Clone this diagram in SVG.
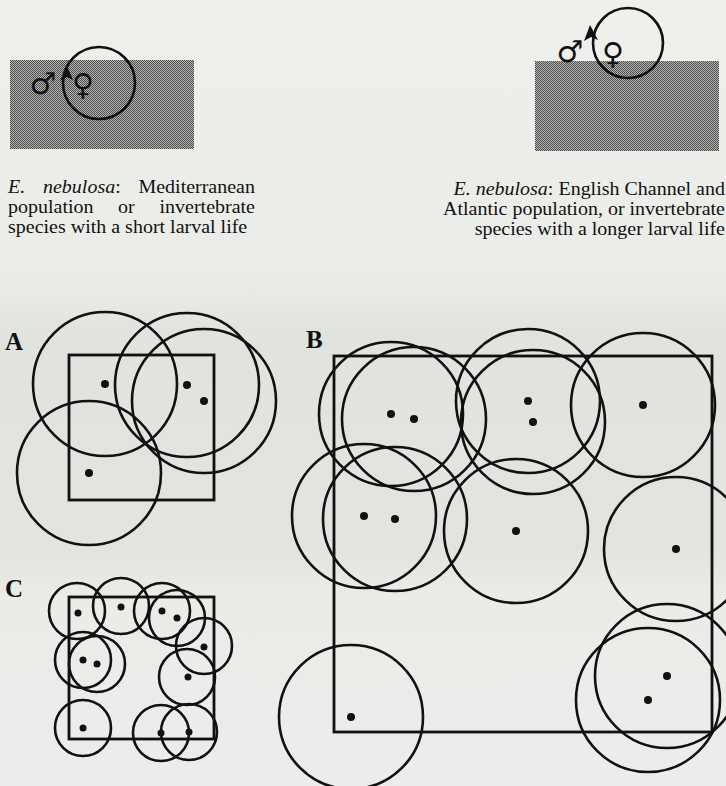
<svg xmlns="http://www.w3.org/2000/svg" width="726" height="786" viewBox="0 0 726 786">
<defs>
<linearGradient id="bg" x1="0" y1="0" x2="0" y2="1">
<stop offset="0" stop-color="#eff0ec"/>
<stop offset="0.36" stop-color="#eaece8"/>
<stop offset="0.42" stop-color="#e1e3df"/>
<stop offset="0.7" stop-color="#e2e4e0"/>
<stop offset="0.76" stop-color="#eaece8"/>
<stop offset="1" stop-color="#ecedea"/>
</linearGradient>
<pattern id="dither" width="2" height="2" patternUnits="userSpaceOnUse">
<rect width="2" height="2" fill="#b8b8b8"/>
<rect width="1" height="1" fill="#4a4a4a"/>
<rect x="1" y="1" width="1" height="1" fill="#4a4a4a"/>
</pattern>
</defs>
<style>
.c{fill:none;stroke:#111;stroke-width:2.6}
.r{fill:none;stroke:#111;stroke-width:2.8}
.d{fill:#111}
.t{font-family:"Liberation Serif","Times New Roman",serif;font-size:18px;fill:#111}
.i{font-style:italic}
.lab{font-family:"Liberation Serif","Times New Roman",serif;font-size:25px;font-weight:bold;fill:#111}
.sym{font-family:"DejaVu Sans",sans-serif;font-size:30px;fill:#111}
.arr{fill:#111}
</style>
<rect width="726" height="786" fill="url(#bg)"/>

<g id="mediterranean">
<rect x="10" y="60" width="184" height="89" fill="url(#dither)"/>
<circle class="c" cx="99" cy="83" r="36"/>
<path class="arr" d="M67,66 L73,80 L67,77 L60,81 Z"/>
<text class="sym" x="43" y="94" text-anchor="middle">♂</text>
<text class="sym" x="83" y="95" text-anchor="middle">♀</text>
<g transform="scale(1.1111,1)">
<text class="t" y="193"><tspan x="7.2" class="i">E.</tspan><tspan x="38.7" class="i">nebulosa</tspan><tspan>:</tspan></text>
<text class="t" x="229.5" y="193" text-anchor="end">Mediterranean</text>
<text class="t" y="213"><tspan x="7.2">population</tspan><tspan x="106.2">or</tspan></text>
<text class="t" x="229.5" y="213" text-anchor="end">invertebrate</text>
<text class="t" x="7.2" y="233">species with a short larval life</text>
</g>
</g>

<g id="atlantic">
<rect x="535" y="61" width="184" height="90" fill="url(#dither)"/>
<circle class="c" cx="628" cy="43" r="35"/>
<path class="arr" d="M590,25 L598,40 L591,37 L584,41 Z"/>
<text class="sym" x="570" y="62" text-anchor="middle">♂</text>
<text class="sym" x="613" y="64" text-anchor="middle">♀</text>
<g transform="scale(1.1111,1)">
<text class="t" x="652.5" y="195" text-anchor="end"><tspan class="i">E. nebulosa</tspan>: English Channel and</text>
<text class="t" x="652.5" y="215" text-anchor="end">Atlantic population, or invertebrate</text>
<text class="t" x="652.5" y="235" text-anchor="end">species with a longer larval life</text>
</g>
</g>

<g id="panelA">
<text class="lab" x="5" y="350">A</text>
<rect class="r" x="69" y="355" width="145" height="145"/>
<circle class="c" cx="105" cy="384" r="72"/>
<circle class="c" cx="89" cy="473" r="72"/>
<circle class="c" cx="187" cy="385" r="72"/>
<circle class="c" cx="204" cy="401" r="72"/>
<circle class="d" cx="105" cy="384" r="4"/>
<circle class="d" cx="89" cy="473" r="4"/>
<circle class="d" cx="187" cy="385" r="4"/>
<circle class="d" cx="204" cy="401" r="4"/>
</g>

<g id="panelB">
<text class="lab" x="306" y="348">B</text>
<rect class="r" x="334" y="356" width="378" height="376"/>
<circle class="c" cx="391" cy="414" r="72"/>
<circle class="c" cx="414" cy="419" r="72"/>
<circle class="c" cx="528" cy="401" r="72"/>
<circle class="c" cx="533" cy="422" r="72"/>
<circle class="c" cx="643" cy="405" r="72"/>
<circle class="c" cx="364" cy="516" r="72"/>
<circle class="c" cx="395" cy="519" r="72"/>
<circle class="c" cx="516" cy="531" r="72"/>
<circle class="c" cx="676" cy="549" r="72"/>
<circle class="c" cx="351" cy="717" r="72"/>
<circle class="c" cx="667" cy="676" r="72"/>
<circle class="c" cx="648" cy="700" r="72"/>
<circle class="d" cx="391" cy="414" r="4"/>
<circle class="d" cx="414" cy="419" r="4"/>
<circle class="d" cx="528" cy="401" r="4"/>
<circle class="d" cx="533" cy="422" r="4"/>
<circle class="d" cx="643" cy="405" r="4"/>
<circle class="d" cx="364" cy="516" r="4"/>
<circle class="d" cx="395" cy="519" r="4"/>
<circle class="d" cx="516" cy="531" r="4"/>
<circle class="d" cx="676" cy="549" r="4"/>
<circle class="d" cx="351" cy="717" r="4"/>
<circle class="d" cx="667" cy="676" r="4"/>
<circle class="d" cx="648" cy="700" r="4"/>
</g>

<g id="panelC">
<text class="lab" x="5" y="597">C</text>
<rect class="r" x="69" y="597" width="145" height="142"/>
<circle class="c" cx="77" cy="611" r="28"/>
<circle class="c" cx="121" cy="606" r="28"/>
<circle class="c" cx="162" cy="611" r="28"/>
<circle class="c" cx="177" cy="618" r="28"/>
<circle class="c" cx="204" cy="646" r="28"/>
<circle class="c" cx="83" cy="660" r="28"/>
<circle class="c" cx="97" cy="664" r="28"/>
<circle class="c" cx="187" cy="677" r="28"/>
<circle class="c" cx="83" cy="728" r="28"/>
<circle class="c" cx="161" cy="733" r="28"/>
<circle class="c" cx="189" cy="732" r="28"/>
<circle class="d" cx="78" cy="613" r="3.5"/>
<circle class="d" cx="121" cy="607" r="3.5"/>
<circle class="d" cx="162" cy="611" r="3.5"/>
<circle class="d" cx="177" cy="618" r="3.5"/>
<circle class="d" cx="204" cy="647" r="3.5"/>
<circle class="d" cx="83" cy="660" r="3.5"/>
<circle class="d" cx="97" cy="664" r="3.5"/>
<circle class="d" cx="188" cy="677" r="3.5"/>
<circle class="d" cx="83" cy="728" r="3.5"/>
<circle class="d" cx="161" cy="733" r="3.5"/>
<circle class="d" cx="189" cy="732" r="3.5"/>
</g>
</svg>
